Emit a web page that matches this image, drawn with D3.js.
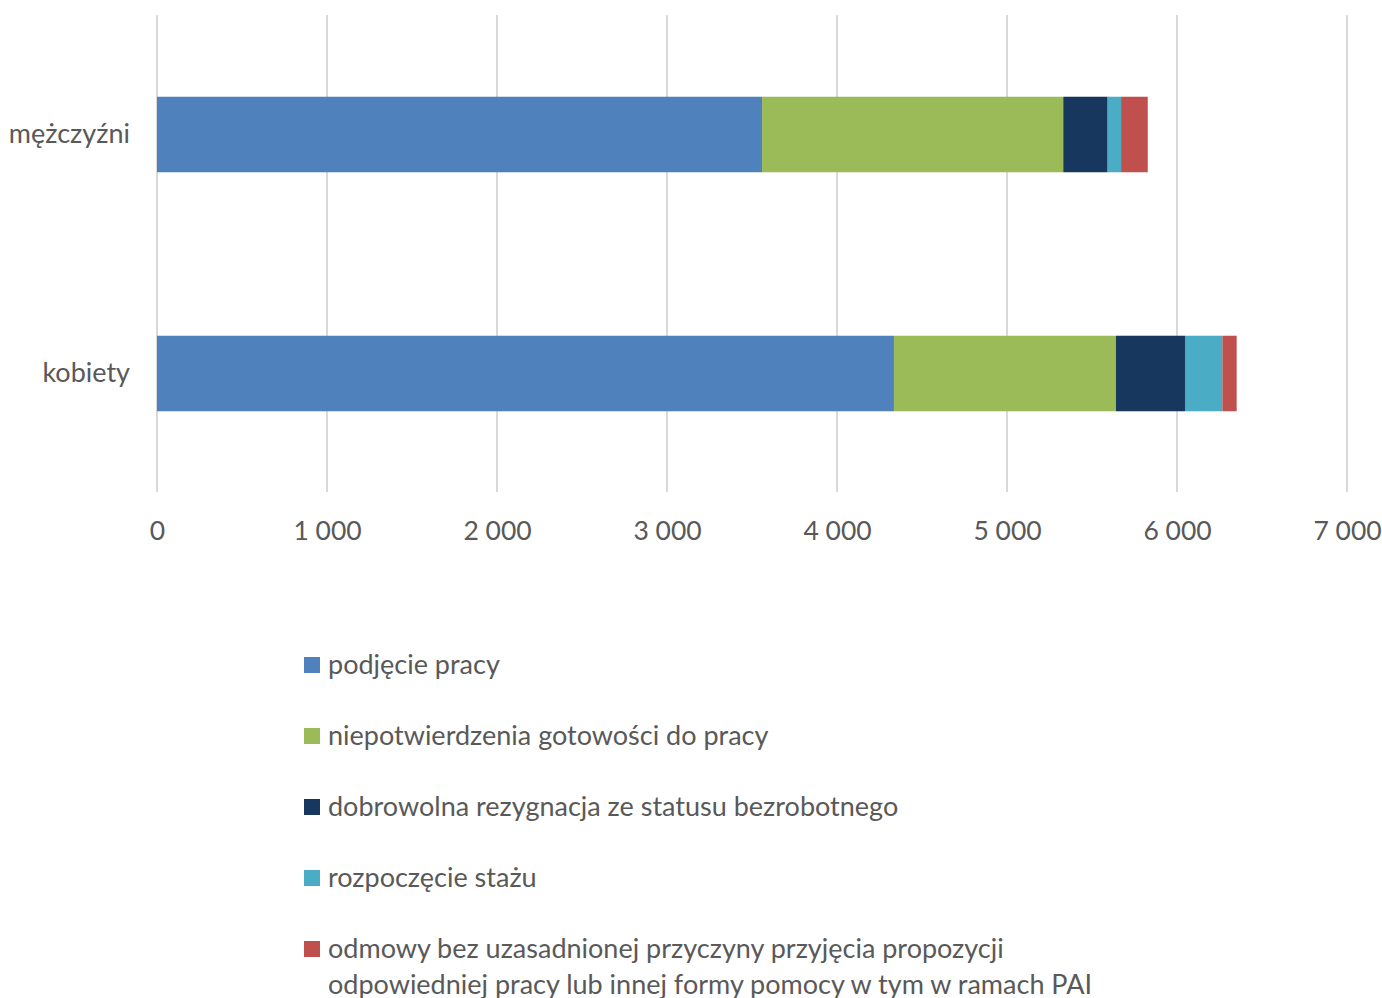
<!DOCTYPE html>
<html>
<head>
<meta charset="utf-8">
<script src="https://cdn.jsdelivr.net/npm/d3@7"></script>
<style>
  body { margin: 0; background: #fff; }
  svg text { font-family: Lato, "Open Sans", sans-serif; fill: #595959; }
</style>
</head>
<body>
<div id="vue"></div>
<script>
var width = 1382, height = 998;

// dane
var categories = ["mężczyźni", "kobiety"];
var seriesNames = [
  "podjęcie pracy",
  "niepotwierdzenia gotowości do pracy",
  "dobrowolna rezygnacja ze statusu bezrobotnego",
  "rozpoczęcie stażu",
  "odmowy bez uzasadnionej przyczyny przyjęcia propozycji|odpowiedniej pracy lub innej formy pomocy w tym w ramach PAI"
];
var podjecie = [3559, 4335];
var niepotwierdzenia = [1772, 1306];
var rezygnacja = [261, 406];
var staz = [79, 220];
var odmowy = [157, 84];
var tickValues = [0, 1000, 2000, 3000, 4000, 5000, 6000, 7000];
var colors = ["#4f81bd", "#9bbb59", "#17375e", "#4bacc6", "#c0504d"];

var series = [podjecie, niepotwierdzenia, rezygnacja, staz, odmowy];

var svg = d3.select("#vue").append("svg")
  .attr("width", width)
  .attr("height", height);

var x = d3.scaleLinear().domain([0, 7000]).range([157, 1347]);
var y = d3.scaleBand().domain(categories).range([15, 493]).padding(0);
var barH = y.bandwidth() * 0.316;

// linie siatki
svg.append("g").selectAll("line")
  .data(tickValues)
  .enter().append("line")
  .attr("x1", function (d) { return x(d); })
  .attr("x2", function (d) { return x(d); })
  .attr("y1", 15)
  .attr("y2", 492)
  .attr("stroke", "#d9d9d9")
  .attr("stroke-width", 2);

// słupki skumulowane
var rows = categories.map(function (c, i) {
  var row = { cat: c };
  series.forEach(function (s, j) { row["s" + j] = s[i]; });
  return row;
});
var stack = d3.stack().keys(series.map(function (s, j) { return "s" + j; }));
var stacked = stack(rows);

svg.append("g").selectAll("g")
  .data(stacked)
  .enter().append("g")
  .attr("fill", function (d, j) { return colors[j]; })
  .selectAll("rect")
  .data(function (d) { return d; })
  .enter().append("rect")
  .attr("x", function (d) { return x(d[0]); })
  .attr("width", function (d) { return x(d[1]) - x(d[0]); })
  .attr("y", function (d) { return y(d.data.cat) + (y.bandwidth() - barH) / 2; })
  .attr("height", barH);

// oś X
var fmt = function (d) { return d3.format(",")(d).replace(/,/g, "\u00a0"); };
var xAxis = svg.append("g")
  .attr("transform", "translate(0,531)")
  .call(d3.axisBottom(x).tickValues(tickValues).tickFormat(fmt).tickSize(0));
xAxis.select(".domain").remove();
xAxis.selectAll("text")
  .attr("font-size", 26.5)
  .attr("y", 0)
  .attr("dy", "0.35em")
  .style("font-family", "Lato, sans-serif")
  .attr("fill", "#595959");

// oś Y
var yAxis = svg.append("g")
  .attr("transform", "translate(130,0)")
  .call(d3.axisLeft(y).tickSize(0));
yAxis.select(".domain").remove();
yAxis.selectAll("text")
  .attr("font-size", 27)
  .attr("x", 0)
  .style("font-family", "Lato, sans-serif")
  .attr("fill", "#595959");

// legenda
var legY = [665, 736, 807, 878, 949];
var leg = svg.append("g").selectAll("g")
  .data(seriesNames)
  .enter().append("g")
  .attr("transform", function (d, i) { return "translate(304," + legY[i] + ")"; });

leg.append("rect")
  .attr("x", 0)
  .attr("y", -8)
  .attr("width", 16)
  .attr("height", 16)
  .attr("fill", function (d, i) { return colors[i]; });

leg.append("text")
  .attr("x", 24)
  .attr("font-size", 27)
  .each(function (d) {
    var t = d3.select(this);
    d.split("|").forEach(function (line, k) {
      t.append("tspan")
        .attr("x", 24)
        .attr("y", k * 36)
        .attr("dy", "0.35em")
        .text(line);
    });
  });
</script>
</body>
</html>
